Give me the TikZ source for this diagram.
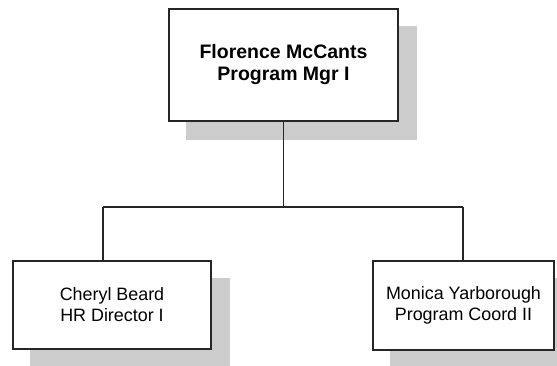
\documentclass[tikz,border=0pt]{standalone}
\usepackage{fontspec}
\setmainfont{Liberation Sans}
\usetikzlibrary{backgrounds}
\tikzset{
  orgbox/.style={draw=black!85, line width=1.4pt, fill=white, inner sep=0pt,
    align=center, font=\fontsize{17.9}{21}\selectfont},
  headbox/.style={orgbox, font=\fontsize{19.5}{22}\selectfont\bfseries},
  shadowfill/.style={fill=black!20},
  link/.style={draw=black!85, line width=1.4pt}
}
\begin{document}
\begin{tikzpicture}[x=1pt, y=-1pt]
  \useasboundingbox (0,0) rectangle (557,366);
  % boxes
  \node[headbox, minimum width=229pt, minimum height=112pt] (top) at (283.5,65)
    {Florence McCants\\Program Mgr I};
  \node[orgbox, minimum width=198pt, minimum height=88pt] (left) at (112,305)
    {Cheryl Beard\\HR Director I};
  \node[orgbox, minimum width=181pt, minimum height=89pt] (right) at (463.5,305.5)
    {Monica Yarborough\\Program Coord II};
  % offset shadows behind each box
  \begin{scope}[on background layer]
    \foreach \b in {top,left,right}
      \fill[shadowfill] ([shift={(18,18)}]\b.north west) rectangle ([shift={(18,18)}]\b.south east);
  \end{scope}
  % connector bus
  \coordinate (busL) at (103,207);
  \coordinate (busR) at (463,207);
  \draw[link] (top.south) -- (top.south |- busL);
  \draw[link] (busL) -- (busR);
  \draw[link] (busL) -- (busL |- left.north);
  \draw[link] (busR) -- (busR |- right.north);
\end{tikzpicture}
\end{document}
